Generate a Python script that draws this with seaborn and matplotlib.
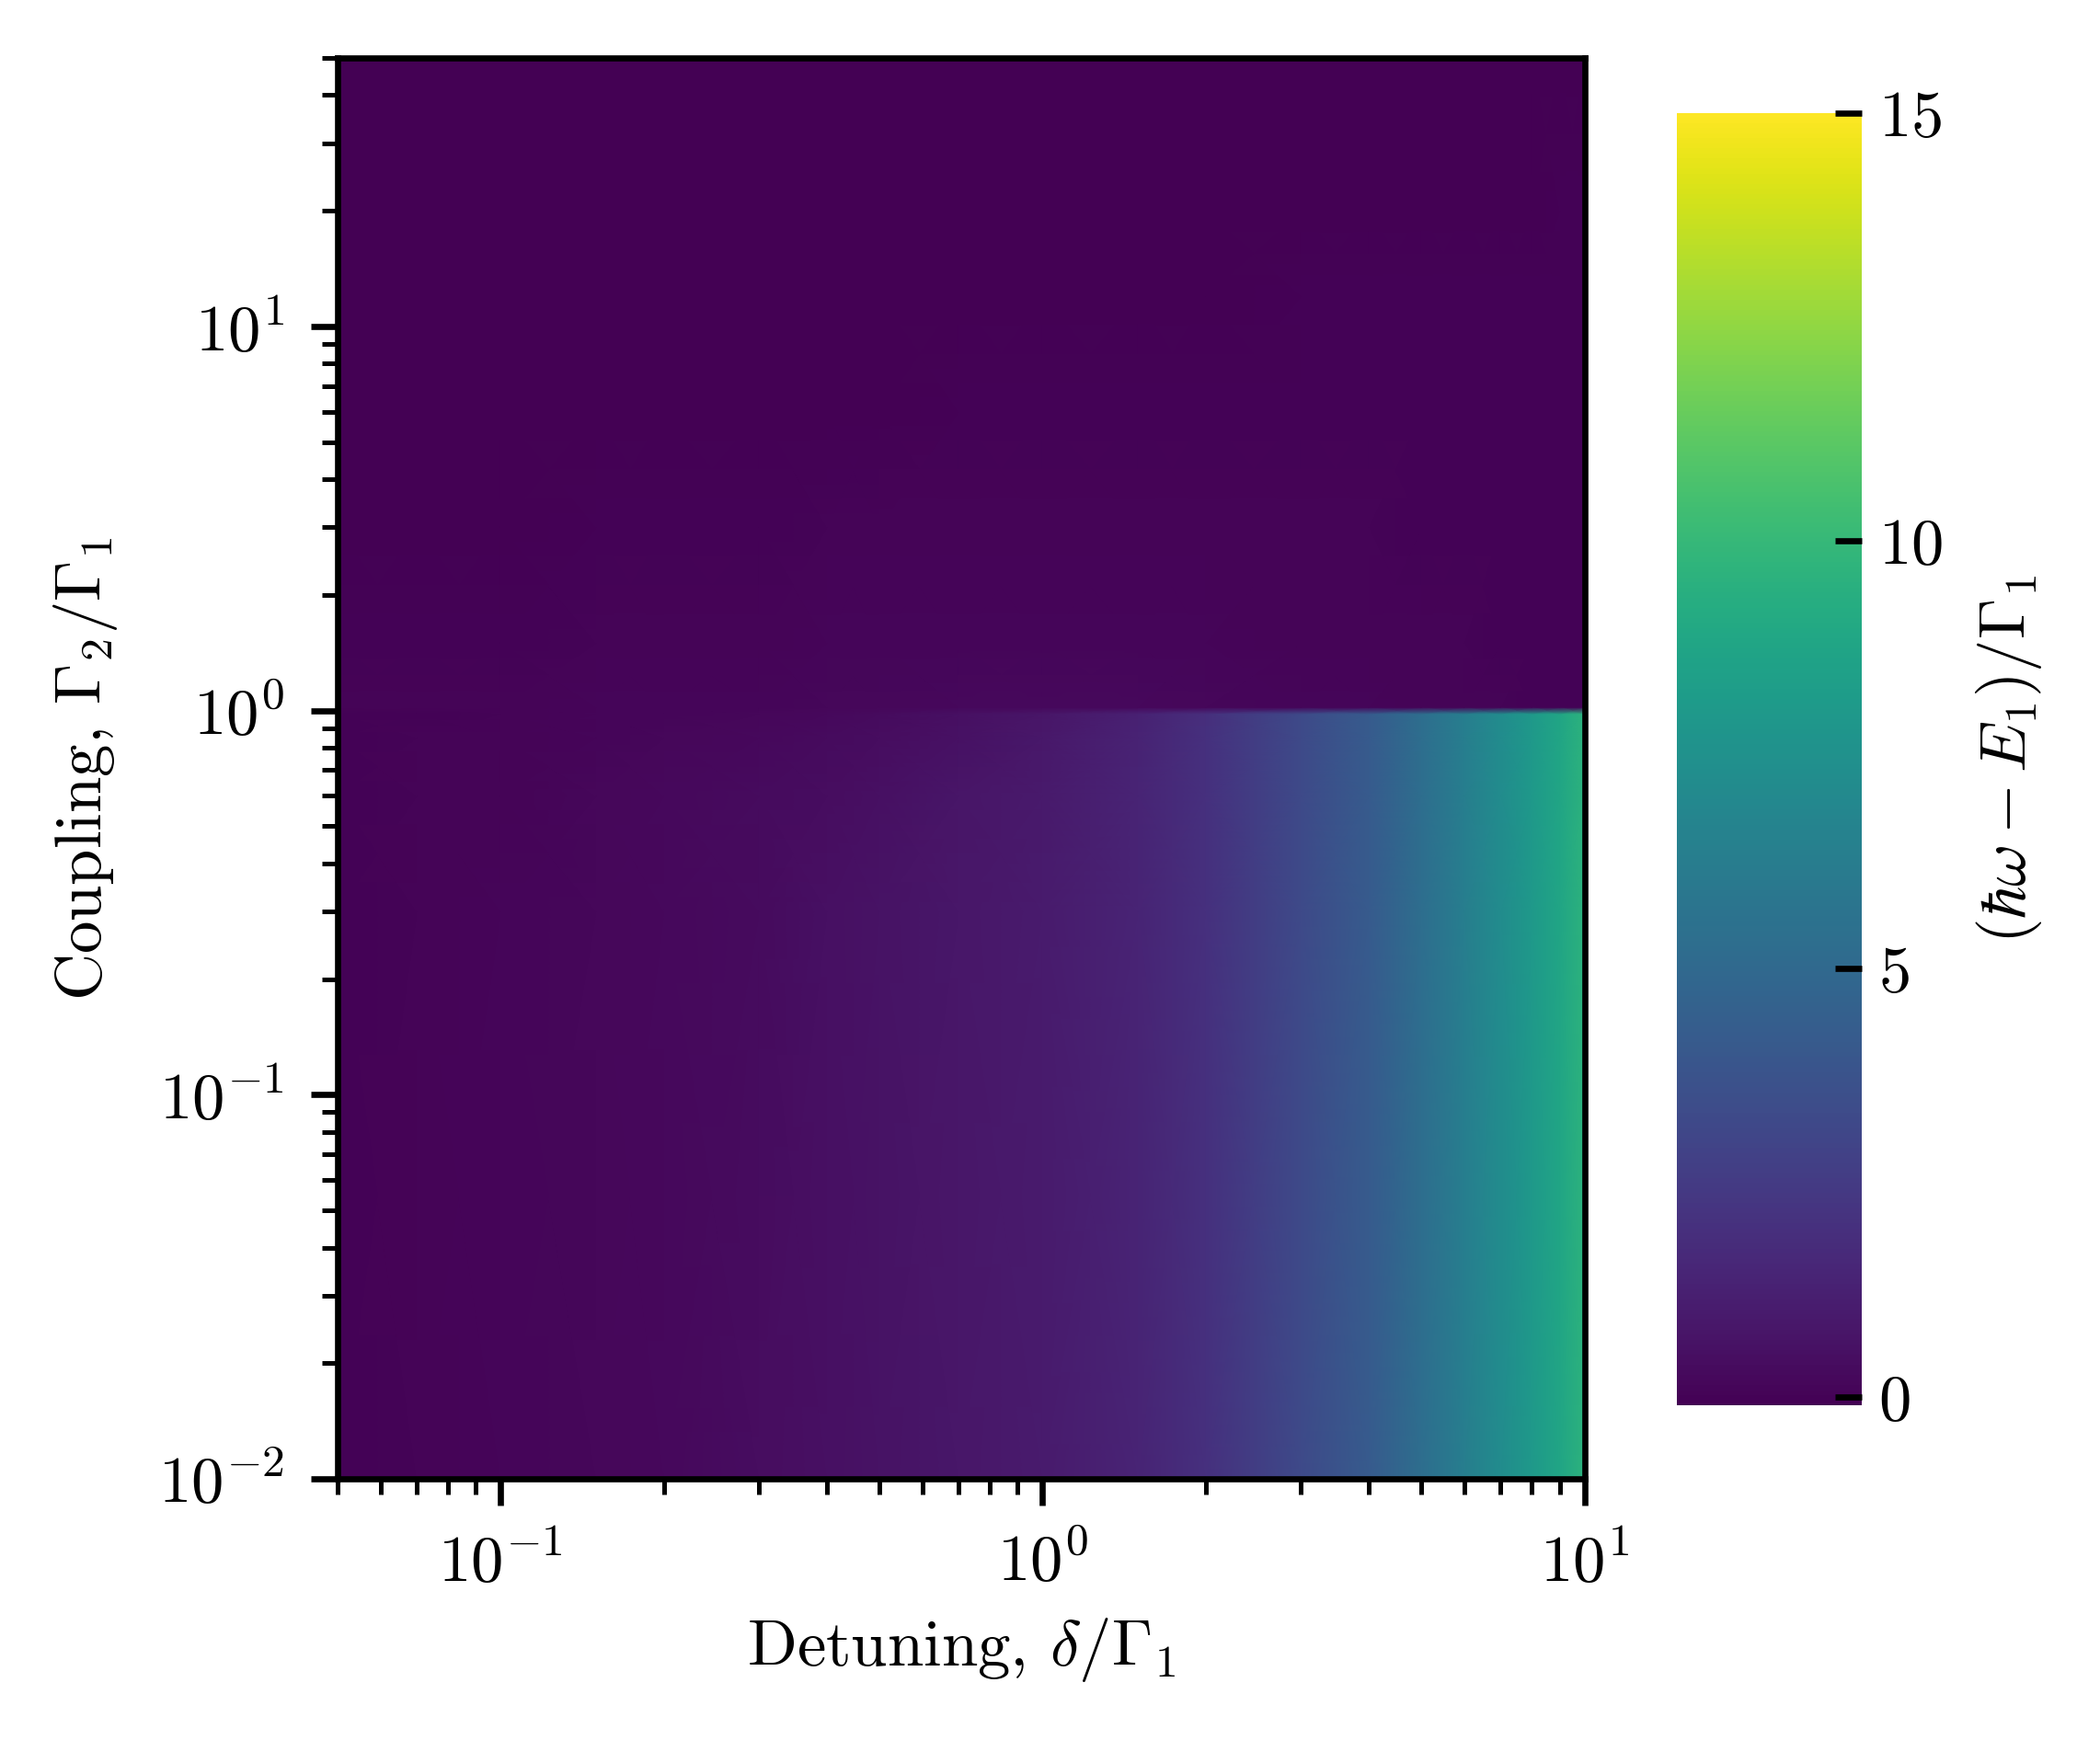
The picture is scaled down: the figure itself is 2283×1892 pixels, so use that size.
import numpy as np
import matplotlib
matplotlib.use("Agg")
import matplotlib.pyplot as plt
import seaborn as sns
from matplotlib.colors import Normalize

# ---- data ----
detuning = [0.05, 0.07, 0.1, 0.15, 0.2, 0.3, 0.4, 0.5, 0.7, 1.0,
            1.5, 2.0, 3.0, 4.0, 5.0, 6.0, 7.0, 8.0, 9.0, 10.0]
coupling = [0.01, 0.3, 0.6, 0.85, 0.98, 1.02, 1.5, 3.0, 6.0, 12.0, 20.0, 50.0]

row_c001 = [0.0, 0.02, 0.08, 0.16, 0.22, 0.38, 0.5, 0.62, 0.82, 1.0,
            1.4, 2.0, 3.3, 4.2, 5.3, 6.3, 7.2, 8.0, 8.8, 9.6]
row_c030 = [0.0, 0.02, 0.08, 0.16, 0.22, 0.37, 0.49, 0.61, 0.81, 1.0,
            1.4, 2.0, 3.3, 4.2, 5.3, 6.3, 7.2, 8.0, 8.8, 9.6]
row_c060 = [0.0, 0.02, 0.07, 0.14, 0.2, 0.32, 0.43, 0.54, 0.74, 0.96,
            1.38, 2.0, 3.3, 4.2, 5.3, 6.3, 7.2, 8.0, 8.8, 9.6]
row_c085 = [0.0, 0.02, 0.06, 0.11, 0.16, 0.25, 0.33, 0.42, 0.6, 0.88,
            1.35, 1.97, 3.3, 4.2, 5.3, 6.3, 7.2, 8.0, 8.8, 9.6]
row_c098 = [0.0, 0.01, 0.04, 0.08, 0.12, 0.18, 0.25, 0.32, 0.5, 0.78,
            1.3, 1.95, 3.3, 4.2, 5.3, 6.3, 7.2, 8.0, 8.8, 9.6]
row_c102 = [0.02, 0.03, 0.05, 0.08, 0.1, 0.13, 0.16, 0.18, 0.2, 0.22,
            0.2, 0.17, 0.12, 0.08, 0.05, 0.03, 0.02, 0.0, 0.0, 0.0]
row_c150 = [-0.04, -0.02, 0.0, 0.02, 0.04, 0.06, 0.08, 0.09, 0.1, 0.1,
            0.09, 0.08, 0.06, 0.04, 0.03, 0.02, 0.01, 0.0, 0.0, 0.0]
row_c300 = [-0.08, -0.07, -0.06, -0.04, -0.02, 0.0, 0.02, 0.03, 0.04, 0.04,
            0.04, 0.03, 0.02, 0.02, 0.01, 0.0, 0.0, 0.0, 0.0, 0.0]
row_c600 = [-0.1, -0.1, -0.09, -0.09, -0.08, -0.07, -0.06, -0.05, -0.03, -0.01,
            0.0, 0.01, 0.01, 0.01, 0.0, 0.0, 0.0, 0.0, 0.0, 0.0]
row_c1200 = [-0.1, -0.1, -0.1, -0.1, -0.1, -0.1, -0.1, -0.09, -0.08, -0.07,
             -0.06, -0.05, -0.03, -0.02, -0.01, 0.0, 0.0, 0.0, 0.0, 0.0]
row_c2000 = [-0.1, -0.1, -0.1, -0.1, -0.1, -0.1, -0.1, -0.1, -0.1, -0.1,
             -0.1, -0.09, -0.08, -0.08, -0.07, -0.06, -0.05, -0.05, -0.04, -0.04]
row_c5000 = [-0.1, -0.1, -0.1, -0.1, -0.1, -0.1, -0.1, -0.1, -0.1, -0.1,
             -0.1, -0.1, -0.1, -0.1, -0.1, -0.1, -0.1, -0.1, -0.1, -0.1]

energy = np.array([row_c001, row_c030, row_c060, row_c085, row_c098, row_c102,
                   row_c150, row_c300, row_c600, row_c1200, row_c2000, row_c5000])

cbar_ticks = [0, 5, 10, 15]

# ---- style ----
sns.set_theme(context="paper", style="ticks")
plt.rcParams.update({
    "font.family": ["cmr10", "DejaVu Serif"],
    "mathtext.fontset": "cm",
    "axes.formatter.use_mathtext": True,
    "font.size": 8.5,
    "axes.labelsize": 8.5,
    "xtick.labelsize": 8.5,
    "ytick.labelsize": 8.5,
    "axes.axisbelow": False,
    "axes.edgecolor": "black",
    "axes.linewidth": 0.8,
    "text.color": "black",
    "axes.labelcolor": "black",
    "xtick.color": "black",
    "ytick.color": "black",
    "xtick.major.size": 3.5,
    "ytick.major.size": 3.5,
    "xtick.minor.size": 2.0,
    "ytick.minor.size": 2.0,
    "xtick.major.width": 0.8,
    "ytick.major.width": 0.8,
    "xtick.minor.width": 0.6,
    "ytick.minor.width": 0.6,
    "xtick.major.pad": 3.5,
    "ytick.major.pad": 3.5,
})

fig = plt.figure(figsize=(2283 / 600, 1892 / 600), dpi=600)
ax = fig.add_axes([0.1607, 0.1501, 0.5938, 0.8166])
cax = fig.add_axes([0.7985, 0.1924, 0.0880, 0.7426])

cmap = sns.color_palette("viridis", as_cmap=True)
norm = Normalize(vmin=-0.1, vmax=15)
X, Y = np.meshgrid(detuning, coupling)
mesh = ax.pcolormesh(X, Y, energy, cmap=cmap, norm=norm, shading="gouraud",
                     rasterized=True)
ax.set_xscale("log")
ax.set_yscale("log")
ax.set_xlim(0.05, 10)
ax.set_ylim(0.01, 50)
ax.set_xlabel(r"Detuning, $\delta/\Gamma_1$", labelpad=2.8)
ax.set_ylabel(r"Coupling, $\Gamma_2/\Gamma_1$", labelpad=5.0)
ax.tick_params(which="both", direction="out", top=False, right=False)

cb = fig.colorbar(mesh, cax=cax)
cb.outline.set_visible(False)
cb.set_ticks(cbar_ticks)
cax.set_axisbelow(False)
cax.tick_params(direction="in", length=3.5, width=0.8, pad=2.2, color="black")
cax.minorticks_off()
cb.set_label(r"$(\hbar\omega - E_1)/\Gamma_1$")

fig.savefig("out.png", dpi=600)
